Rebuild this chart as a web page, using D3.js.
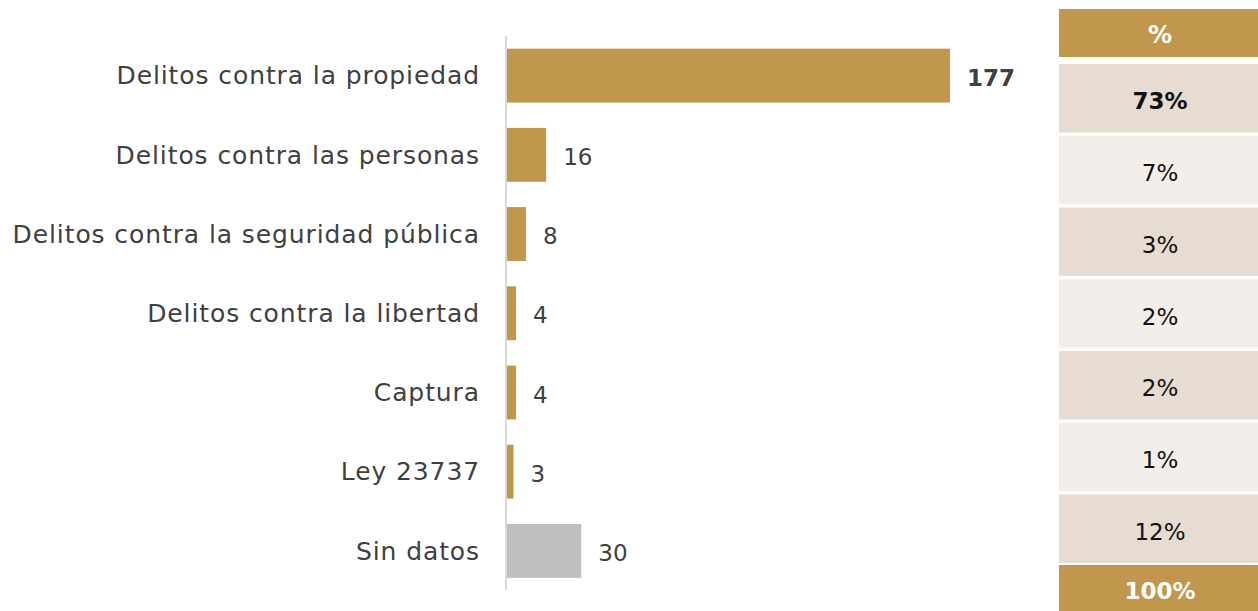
<!DOCTYPE html>
<html><head><meta charset="utf-8">
<script src="https://cdn.jsdelivr.net/npm/d3@7"></script>
<style>body{margin:0;background:#fff;} svg{display:block;}</style>
</head><body>
<svg id="chart" width="1258" height="611"></svg>
<script>
const categories = ["Delitos contra la propiedad","Delitos contra las personas","Delitos contra la seguridad pública","Delitos contra la libertad","Captura","Ley 23737","Sin datos"];
const values = [177,16,8,4,4,3,30];
const percents = ["73%","7%","3%","2%","2%","1%","12%"];
const totalLabel = "100%";
const headerLabel = "%";

const svg = d3.select("#chart");
const FONT = "'DejaVu Sans', sans-serif";
const gold = "#C0974C", grey = "#BFBFBF";

const x = d3.scaleLinear().domain([0,177]).range([506,950]);
const y = d3.scaleBand().domain(categories).range([36,590.5]).paddingInner(0.32).paddingOuter(0.16);

// axis line
svg.append("line").attr("x1",506).attr("x2",506).attr("y1",36).attr("y2",590)
  .attr("stroke","#D9D9D9").attr("stroke-width",2);

svg.selectAll("rect.bar").data(categories).join("rect").attr("class","bar")
  .attr("x",x(0)+1).attr("y",d=>y(d)).attr("height",y.bandwidth())
  .attr("width",(d,i)=>x(values[i])-x(0)-1)
  .attr("fill",(d,i)=>d==="Sin datos"?grey:gold);

svg.selectAll("text.cat").data(categories).join("text").attr("class","cat")
  .attr("x",480).attr("y",d=>y(d)+y.bandwidth()/2).attr("dy","0.35em")
  .attr("text-anchor","end").attr("font-family",FONT).attr("font-size",25)
  .attr("letter-spacing","0.9px")
  .attr("fill","#404040").text(d=>d);

svg.selectAll("text.val").data(categories).join("text").attr("class","val")
  .attr("x",(d,i)=>x(values[i])+17).attr("y",d=>y(d)+y.bandwidth()/2+2).attr("dy","0.35em")
  .attr("font-family",FONT).attr("font-size",23)
  .attr("font-weight",(d,i)=>i===0?"bold":"normal")
  .attr("fill","#404040").text((d,i)=>values[i]);

// table
const tx = 1059, tw = 202;
const rowY = d3.scaleBand().domain(d3.range(percents.length)).range([64,563]).paddingInner(0.045);
svg.append("rect").attr("x",tx).attr("y",9).attr("width",tw).attr("height",48).attr("fill",gold);
svg.append("text").attr("x",tx+tw/2).attr("y",35).attr("dy","0.35em").attr("text-anchor","middle")
  .attr("font-family",FONT).attr("font-size",24).attr("font-weight","bold").attr("fill","#fff").text(headerLabel);
svg.selectAll("rect.row").data(percents).join("rect").attr("class","row")
  .attr("x",tx).attr("y",(d,i)=>rowY(i)).attr("width",tw).attr("height",rowY.bandwidth())
  .attr("fill",(d,i)=>i%2===0?"#E7DCD1":"#F3EEE9");
svg.selectAll("text.pct").data(percents).join("text").attr("class","pct")
  .attr("x",tx+tw/2).attr("y",(d,i)=>rowY(i)+rowY.bandwidth()/2+3).attr("dy","0.35em")
  .attr("text-anchor","middle").attr("font-family",FONT).attr("font-size",23)
  .attr("font-weight",(d,i)=>i===0?"bold":"normal").attr("fill","#111").text(d=>d);
svg.append("rect").attr("x",tx).attr("y",565).attr("width",tw).attr("height",50).attr("fill",gold);
svg.append("text").attr("x",tx+tw/2).attr("y",591).attr("dy","0.35em").attr("text-anchor","middle")
  .attr("font-family",FONT).attr("font-size",23).attr("font-weight","bold").attr("fill","#fff").text(totalLabel);
</script>
</body></html>
